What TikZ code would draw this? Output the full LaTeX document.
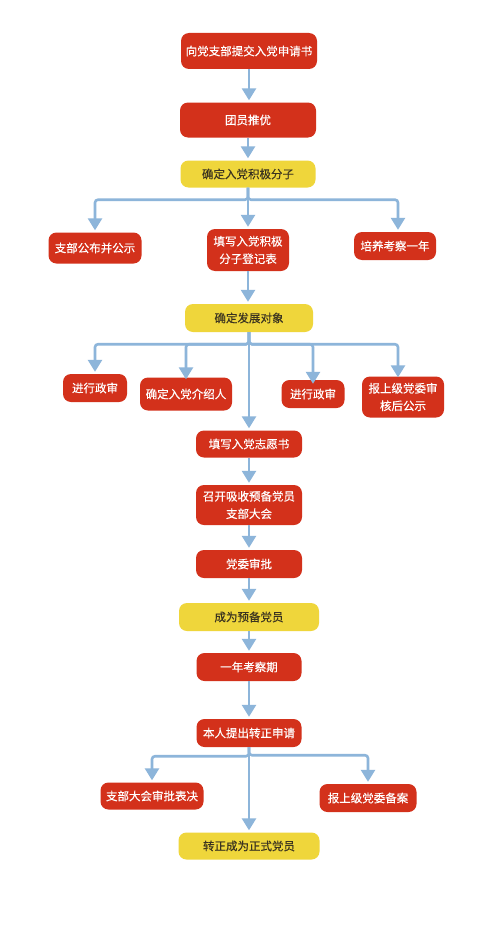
\documentclass[tikz,border=0pt]{standalone}
\usepackage{fontspec}
\newfontfamily\cjk[FakeBold=0.4]{Noto Sans CJK SC}
\usetikzlibrary{arrows.meta}
\definecolor{boxred}{HTML}{D3311B}
\definecolor{boxyel}{HTML}{EFD63B}
\definecolor{arrblue}{HTML}{8DB5DA}
\definecolor{txtdark}{HTML}{3A3320}
\begin{document}
\begin{tikzpicture}[x=1pt,y=-1pt,
  base/.style={rounded corners=8pt,inner sep=0pt,align=center,font=\cjk\fontsize{11.5}{17.5}\selectfont},
  redbox/.style={base,fill=boxred,text=white},
  yelbox/.style={base,fill=boxyel,text=txtdark},
  arr/.style={draw=arrblue,line width=2.6pt,rounded corners=3pt,-{Triangle[width=14pt,length=12pt]},shorten >=2pt}
]
\useasboundingbox[fill=white] (0,0) rectangle (500,934);
% main column
\node[redbox,minimum width=136pt,minimum height=36pt] (n1) at (249,51) {向党支部提交入党申请书};
\node[redbox,minimum width=136pt,minimum height=35pt] (n2) at (248,120) {团员推优};
\node[yelbox,minimum width=135pt,minimum height=27pt] (n3) at (248,174) {确定入党积极分子};
\node[redbox,minimum width=93pt,minimum height=31pt] (a1) at (95,248) {支部公布并公示};
\node[redbox,minimum width=82pt,minimum height=42pt] (a2) at (248,250) {填写入党积极\\分子登记表};
\node[redbox,minimum width=82pt,minimum height=28pt] (a3) at (395,246) {培养考察一年};
\node[yelbox,minimum width=128pt,minimum height=28pt] (n5) at (249,318) {确定发展对象};
\node[redbox,minimum width=64pt,minimum height=28pt] (b1) at (95,388) {进行政审};
\node[redbox,minimum width=92pt,minimum height=33pt] (b2) at (186,394) {确定入党介绍人};
\node[redbox,minimum width=63pt,minimum height=28pt] (b3) at (313,394) {进行政审};
\node[redbox,minimum width=82pt,minimum height=41pt] (b4) at (403,397) {报上级党委审\\核后公示};
\node[redbox,minimum width=106pt,minimum height=27pt] (n6) at (249,444) {填写入党志愿书};
\node[redbox,minimum width=106pt,minimum height=40pt] (n7) at (249,505) {召开吸收预备党员\\支部大会};
\node[redbox,minimum width=106pt,minimum height=28pt] (n8) at (249,564) {党委审批};
\node[yelbox,minimum width=140pt,minimum height=28pt] (n9) at (249,617) {成为预备党员};
\node[redbox,minimum width=105pt,minimum height=28pt] (n10) at (249,667) {一年考察期};
\node[redbox,minimum width=105pt,minimum height=28pt] (n11) at (249,733) {本人提出转正申请};
\node[redbox,minimum width=103pt,minimum height=27pt] (c1) at (152,796) {支部大会审批表决};
\node[redbox,minimum width=97pt,minimum height=28pt] (c2) at (368,798) {报上级党委备案};
\node[yelbox,minimum width=141pt,minimum height=27pt] (n12) at (249,846) {转正成为正式党员};
% connectors
\draw[arr] (n1.south) -- (n1.south |- n2.north);
\draw[arr] (n2.south) -- (n2.south |- n3.north);
\draw[arr] (n3.south) -- (a2.north);
\draw[arr] (n3.south) -- ++(0,12) -| (a1.north);
\draw[arr] (n3.south) -- ++(0,12) -| ([xshift=3pt]a3.north);
\draw[arr] (a2.south) -- (a2.south |- n5.north);
\draw[arr] (n5.south) -- (n5.south |- n6.north);
\draw[arr] (n5.south) -- ++(0,12) -| (b1.north);
\draw[arr] (n5.south) -- ++(0,12) -| ([yshift=-4pt]b2.north);
\draw[arr] (n5.south) -- ++(0,12) -| ([yshift=-6pt]b3.north);
\draw[arr] (n5.south) -- ++(0,12) -| ([xshift=-5pt,yshift=-3pt]b4.north);
\draw[arr] (n6.south) -- (n7.north);
\draw[arr] (n7.south) -- (n8.north);
\draw[arr] (n8.south) -- (n9.north);
\draw[arr] (n9.south) -- (n10.north);
\draw[arr] (n10.south) -- (n11.north);
\draw[arr] (n11.south) -- (n12.north);
\draw[arr] (n11.south) -- ++(0,9) -| (c1.north);
\draw[arr] (n11.south) -- ++(0,8) -| (c2.north);
\end{tikzpicture}
\end{document}
